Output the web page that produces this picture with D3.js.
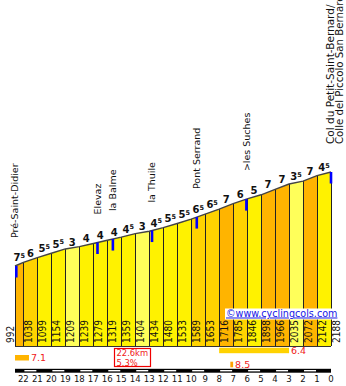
<!DOCTYPE html>
<html><head><meta charset="utf-8">
<script src="https://cdn.jsdelivr.net/npm/d3@7/dist/d3.min.js"></script>
<style>html,body{margin:0;padding:0;background:#fff;} svg{display:block;}</style>
</head><body><div id="chart"></div>
<script>
// ---- data ----
const distances = [22.6,22,21,20,19,18,17,16,15,14,13,12,11,10,9,8,7,6,5,4,3,2,1,0];
const elevations = [992,1038,1099,1154,1209,1239,1279,1319,1359,1404,1434,1480,1533,1589,1653,1716,1785,1846,1898,1966,2035,2072,2142,2188];
const gradients = [7.5,6,5.5,5.5,3,4,4,4,4.5,3,4.5,5.5,5.5,6.5,6.5,7,6,5,7,7,3.5,7,4.5];
const kmTicks = [22,21,20,19,18,17,16,15,14,13,12,11,10,9,8,7,6,5,4,3,2,1,0];
const placeNames = ["Pré-Saint-Didier","Elevaz","la Balme","la Thuile","Pont Serrand",">les Suches","Col du Petit-Saint-Bernard/"];
const placeSecond = ["","","","","","","Colle del Piccolo San Bernardo"];
const placeKm = [22.6,16.7,15.6,12.8,9.6,6.05,0];
const statValues = [7.1,6.4,8.5];
const statFromKm = [22.6,8,7.2];
const statToKm = [21.6,3,7.0];
const totalKm = "22.6km";
const avgGrad = "5.3%";
const credit = "©www.cyclingcols.com";

// ---- layout ----
const W = 346, H = 386;
const x = d3.scaleLinear().domain([22.6, 0]).range([15, 331]);
const y = d3.scaleLinear().domain([992, 2188]).range([266, 172]);
const bottom = 346;

function gradColor(g){
  if (g >= 8) return "#FFA200";
  if (g >= 7) return "#FFB400";
  if (g >= 6) return "#FFD200";
  if (g >= 4) return "#FFF200";
  return "#FFFF5A";
}
function elevAt(km){
  for (let i=0;i<distances.length-1;i++){
    const a=distances[i], b=distances[i+1];
    if (km<=a && km>=b){ const t=(a-km)/(a-b); return elevations[i]+t*(elevations[i+1]-elevations[i]); }
  }
  return elevations[elevations.length-1];
}

const svg = d3.select("#chart").append("svg").attr("width",W).attr("height",H);
svg.append("rect").attr("width",W).attr("height",H).attr("fill","#fff");

// bars
const segs = d3.range(gradients.length).map(i=>({i, d0:distances[i], d1:distances[i+1], e0:elevations[i], e1:elevations[i+1], g:gradients[i]}));
svg.append("g").selectAll("path").data(segs).join("path")
  .attr("d", s=>`M${x(s.d0)},${bottom}L${x(s.d0)},${y(s.e0)}L${x(s.d1)},${y(s.e1)}L${x(s.d1)},${bottom}Z`)
  .attr("fill", s=>gradColor(s.g));
// separators
svg.append("g").selectAll("line").data(distances).join("line")
  .attr("x1",d=>x(d)).attr("x2",d=>x(d))
  .attr("y1",(d,i)=>y(elevations[i])).attr("y2",bottom)
  .attr("stroke","#222").attr("stroke-width",1).attr("shape-rendering","crispEdges");
svg.append("line").attr("x1",x(22.6)).attr("x2",x(0)).attr("y1",bottom).attr("y2",bottom)
  .attr("stroke","#333").attr("stroke-width",1).attr("shape-rendering","crispEdges");
// profile line
svg.append("path").datum(distances.map((d,i)=>[x(d),y(elevations[i])]))
  .attr("d", d3.line()).attr("fill","none").attr("stroke","#444").attr("stroke-width",1.4);

// watermark
const wm = svg.append("g");
wm.append("rect").attr("x",225).attr("y",308.5).attr("width",109).attr("height",11).attr("fill","#fff");
wm.append("text").attr("x",226).attr("y",316.5).text(credit)
  .attr("font-family","DejaVu Sans").attr("font-size",9.6).attr("fill","#1515E6")
  .attr("text-decoration","underline");

// elevation labels
svg.append("g").selectAll("text").data(elevations).join("text")
  .attr("transform",(e,i)=>{
    const xx = i===0 ? x(distances[0])-5 : x(distances[i])+5.5;
    return `translate(${xx},343) rotate(-90)`;
  })
  .attr("dy","0.36em")
  .attr("font-family","DejaVu Sans Condensed").attr("font-size",10).attr("fill","#111")
  .text(e=>e);

// gradient labels
const gl = svg.append("g").selectAll("text").data(segs).join("text")
  .attr("x", s=>(x(s.d0)+x(s.d1))/2)
  .attr("y", s=>y(s.e1)-1)
  .attr("text-anchor","middle")
  .attr("font-family","DejaVu Sans").attr("font-weight","bold").attr("font-size",10).attr("fill","#111");
gl.each(function(s){
  const t=d3.select(this);
  const ip=Math.floor(s.g), frac=Math.round((s.g-ip)*10);
  t.append("tspan").text(ip);
  if (frac>0) t.append("tspan").attr("font-size",6.5).attr("dy",-3.5).text(frac);
});

// places
const pl = svg.append("g").selectAll("g").data(placeNames.map((n,i)=>({n, n2:placeSecond[i], km:placeKm[i]}))).join("g");
pl.append("rect")
  .attr("x",p=>p.km===22.6 ? x(p.km) : x(p.km)-1.3).attr("width",2.6)
  .attr("y",p=>y(elevAt(p.km))).attr("height",11.5).attr("fill","#0000FF");
pl.append("text")
  .attr("transform",p=>`translate(${x(p.km)-(p.n2?1:0)},${y(elevAt(p.km))-28}) rotate(-90)`)
  .attr("dy","0.36em")
  .attr("font-family","DejaVu Sans").attr("font-size",p=>p.n2?10.5:9.5).attr("fill","#111")
  .text(p=>p.n);
pl.filter(p=>p.n2).append("text")
  .attr("transform",p=>`translate(${x(p.km)+8.3},${y(elevAt(p.km))-28}) rotate(-90)`)
  .attr("dy","0.36em")
  .attr("font-family","DejaVu Sans").attr("font-size",10.2).attr("fill","#111")
  .text(p=>p.n2);

// stats bars
const statY = [[355,5.5],[347.7,5.5],[361.7,5.6]];
statValues.forEach((v,i)=>{
  const x0=x(statFromKm[i]), x1=x(statToKm[i]);
  svg.append("rect").attr("x",x0).attr("y",statY[i][0]).attr("width",x1-x0).attr("height",statY[i][1]).attr("fill",gradColor(v));
  svg.append("text").attr("x",x1+2).attr("y",statY[i][0]+statY[i][1]/2).attr("dy","0.36em")
    .attr("font-family","DejaVu Sans").attr("font-size",9.5).attr("fill","#F02020").text(v.toFixed(1));
});
// summary box
svg.append("rect").attr("x",114.5).attr("y",348.5).attr("width",36).attr("height",18)
  .attr("fill","#fff").attr("stroke","#F00000").attr("stroke-width",1.2);
const sumT = svg.append("text").attr("font-family","DejaVu Sans Condensed").attr("font-size",9.3).attr("fill","#F02020");
sumT.append("tspan").attr("x",116.5).attr("y",356.4).text(totalKm);
sumT.append("tspan").attr("x",116.5).attr("y",365.6).text(avgGrad);

// km axis bar
svg.append("rect").attr("x",x(22.6)).attr("y",368.8).attr("width",x(0)-x(22.6)).attr("height",3.9).attr("fill","#000");
svg.append("g").selectAll("rect").data(kmTicks.filter(k=>k%2===0 && k>0)).join("rect")
  .attr("x",k=>x(k)+1).attr("width",k=>x(k-1)-x(k)-2).attr("y",370).attr("height",1.4).attr("fill","#fff");
svg.append("g").selectAll("text").data(kmTicks).join("text")
  .attr("x",k=>x(k)).attr("y",382).attr("text-anchor","middle")
  .attr("font-family","DejaVu Sans Condensed").attr("font-size",9.5).attr("fill","#111")
  .text(k=>k);
</script></body></html>
